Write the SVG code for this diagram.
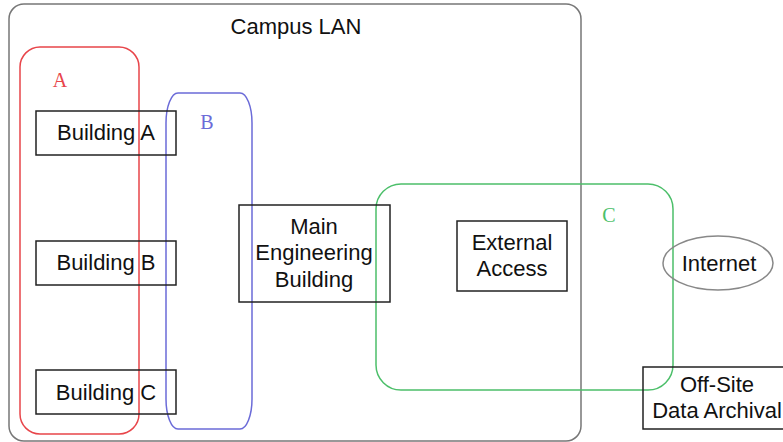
<svg xmlns="http://www.w3.org/2000/svg" width="783" height="442" viewBox="0 0 783 442">
  <style>
    .box { fill: none; stroke: #222; stroke-width: 1.5; }
    .lbl { font-family: "Liberation Sans", Arial, sans-serif; font-size: 22px; fill: #111; text-anchor: middle; }
    .grp { font-family: "Liberation Serif", "Times New Roman", serif; font-size: 20px; text-anchor: middle; }
  </style>
  <rect width="783" height="442" fill="#fff"/>

  <!-- Campus LAN boundary -->
  <g id="campus-lan">
    <rect x="9" y="4" width="572" height="437" rx="15" ry="15" fill="none" stroke="#777" stroke-width="1.5"/>
    <text class="lbl" x="296" y="34">Campus LAN</text>
  </g>

  <!-- Grouping outlines -->
  <g id="group-a">
    <rect x="20" y="47" width="119" height="387" rx="20" ry="20" fill="none" stroke="#e8454a" stroke-width="1.5"/>
    <text class="grp" x="60" y="87" fill="#e8454a">A</text>
  </g>
  <g id="group-b">
    <rect x="166" y="93" width="86" height="336" rx="12" ry="30" fill="none" stroke="#6b6bd8" stroke-width="1.5"/>
    <text class="grp" x="207" y="129" fill="#6b6bd8">B</text>
  </g>
  <g id="group-c">
    <rect x="376" y="184" width="297" height="206" rx="25" ry="25" fill="none" stroke="#4cbf6a" stroke-width="1.5"/>
    <text class="grp" x="609" y="222" fill="#4cbf6a">C</text>
  </g>

  <!-- Nodes -->
  <g id="building-a">
    <rect class="box" x="36" y="111" width="140" height="44"/>
    <text class="lbl" x="106" y="140">Building A</text>
  </g>
  <g id="building-b">
    <rect class="box" x="36" y="241" width="140" height="44"/>
    <text class="lbl" x="106" y="270">Building B</text>
  </g>
  <g id="building-c">
    <rect class="box" x="36" y="370" width="140" height="44"/>
    <text class="lbl" x="106" y="400">Building C</text>
  </g>
  <g id="main-engineering">
    <rect class="box" x="239" y="205" width="151" height="97"/>
    <text class="lbl" x="314" y="234">Main</text>
    <text class="lbl" x="314" y="260">Engineering</text>
    <text class="lbl" x="314" y="287">Building</text>
  </g>
  <g id="external-access">
    <rect class="box" x="457" y="221" width="110" height="70"/>
    <text class="lbl" x="512" y="250">External</text>
    <text class="lbl" x="512" y="276">Access</text>
  </g>
  <g id="internet">
    <ellipse cx="718" cy="263" rx="55" ry="27" fill="none" stroke="#888" stroke-width="1.5"/>
    <text class="lbl" x="719" y="271">Internet</text>
  </g>
  <g id="off-site">
    <rect class="box" x="643" y="367" width="145" height="62"/>
    <text class="lbl" x="717" y="392">Off-Site</text>
    <text class="lbl" x="717" y="418">Data Archival</text>
  </g>

  <g id="connectors"></g>
</svg>
